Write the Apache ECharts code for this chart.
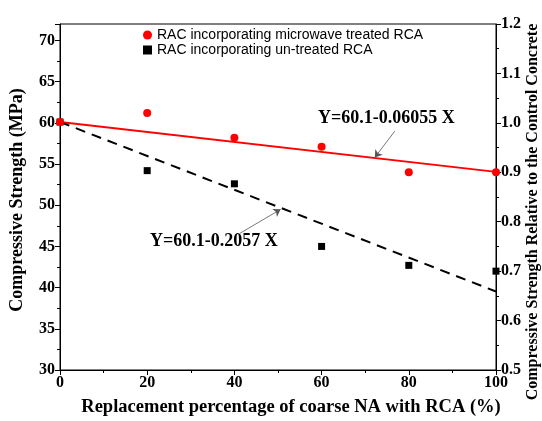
<!DOCTYPE html>
<html>
<head>
<meta charset="utf-8">
<script src="https://cdn.jsdelivr.net/npm/echarts@6/dist/echarts.min.js"></script>
<style>
  html, body { margin: 0; padding: 0; background: #fff; }
  #chart { width: 542px; height: 421px; }
</style>
</head>
<body>
<div id="chart"></div>
<script>
// replacement percentage (%)
const replacement = [0, 20, 40, 60, 80, 100]
// compressive strength (MPa)
const microwaveTreated = [60.1, 61.2, 58.2, 57.1, 54.0, 54.0]
const untreated = [60.1, 54.2, 52.6, 45.0, 42.7, 42.0]
// fitted lines, values at 0 % and 100 %
const fitX = [0, 100]
const microwaveFit = [60.1, 54.05]
const untreatedFit = [60.1, 39.53]

const serif = '"Liberation Serif", "Times New Roman", serif'

const chart = echarts.init(document.getElementById('chart'))

const pairs = (xs, ys) => xs.map((x, i) => [x, ys[i]])

chart.setOption({
  animation: false,
  grid: {
    left: 60,
    right: 46,
    top: 24,
    bottom: 51,
    outerBoundsMode: 'none',
    show: true,
    borderColor: '#000',
    borderWidth: 1
  },
  legend: {
    orient: 'vertical',
    left: 138,
    top: 23,
    itemGap: 1,
    itemWidth: 9,
    itemHeight: 9,
    textStyle: { fontFamily: '"Liberation Sans", Arial, sans-serif', fontSize: 14, color: '#000' },
    data: [
      { name: 'RAC incorporating microwave treated RCA', icon: 'circle' },
      { name: 'RAC incorporating un-treated RCA', icon: 'rect' }
    ]
  },
  xAxis: {
    type: 'value',
    min: 0,
    max: 100,
    interval: 20,
    name: 'Replacement percentage of coarse NA with RCA (%)',
    nameLocation: 'middle',
    nameGap: 28,
    nameTextStyle: { fontFamily: serif, fontWeight: 'bold', fontSize: 18.5, color: '#000', padding: [0, 0, 0, 26] },
    axisLine: { lineStyle: { color: '#000' } },
    axisTick: { length: 5, lineStyle: { color: '#000' } },
    minorTick: { show: true, splitNumber: 2, length: 3, lineStyle: { color: '#000' } },
    axisLabel: { fontFamily: serif, fontWeight: 'bold', fontSize: 16, color: '#000', margin: 5 },
    splitLine: { show: false }
  },
  yAxis: [{
    type: 'value',
    min: 30,
    max: 72,
    interval: 5,
    name: 'Compressive Strength (MPa)',
    nameLocation: 'middle',
    nameGap: 34,
    nameTextStyle: { fontFamily: serif, fontWeight: 'bold', fontSize: 18, color: '#000', padding: [0, 6, 0, 0] },
    axisLine: { show: true, lineStyle: { color: '#000' } },
    axisTick: { show: true, length: 5, lineStyle: { color: '#000' } },
    minorTick: { show: true, splitNumber: 2, length: 3, lineStyle: { color: '#000' } },
    axisLabel: {
      fontFamily: serif, fontWeight: 'bold', fontSize: 16, color: '#000', margin: 5,
      formatter: v => (v % 5 === 0 ? String(v) : '')
    },
    splitLine: { show: false }
  }, {
    type: 'value',
    min: 0.5,
    max: 1.2,
    interval: 0.1,
    position: 'right',
    name: 'Compressive Strength Relative to the Control Concrete',
    nameLocation: 'middle',
    nameGap: 29,
    nameMoveOverlap: false,
    nameRotate: 90,
    nameTextStyle: { fontFamily: serif, fontWeight: 'bold', fontSize: 16, color: '#000', padding: [0, 30, 0, 0] },
    axisLine: { show: true, lineStyle: { color: '#000' } },
    axisTick: { show: true, length: 5, lineStyle: { color: '#000' } },
    minorTick: { show: true, splitNumber: 2, length: 3, lineStyle: { color: '#000' } },
    axisLabel: {
      fontFamily: serif, fontWeight: 'bold', fontSize: 16, color: '#000', margin: 5,
      formatter: v => v.toFixed(1)
    },
    splitLine: { show: false }
  }],
  graphic: [
    {
      type: 'text', left: 318, top: 109,
      style: { text: 'Y=60.1-0.06055 X', font: 'bold 18px ' + serif, fill: '#000' }
    },
    {
      type: 'text', left: 150, top: 232,
      style: { text: 'Y=60.1-0.2057 X', font: 'bold 18px ' + serif, fill: '#000' }
    }
  ],
  series: [
    {
      name: 'microwave fit',
      type: 'line',
      data: pairs(fitX, microwaveFit),
      showSymbol: false,
      lineStyle: { color: '#ff0000', width: 2 },
      itemStyle: { color: '#ff0000' },
      z: 2,
      markLine: {
        silent: true,
        symbol: ['none', 'arrow'],
        symbolSize: 7,
        label: { show: false },
        lineStyle: { color: '#555', width: 0.8, type: 'solid' },
        data: [[{ coord: [76.8, 59.0] }, { coord: [72.2, 55.8] }]]
      }
    },
    {
      name: 'untreated fit',
      type: 'line',
      data: pairs(fitX, untreatedFit),
      showSymbol: false,
      lineStyle: { color: '#000', width: 2, type: [10, 7] },
      itemStyle: { color: '#000' },
      z: 2,
      markLine: {
        silent: true,
        symbol: ['none', 'arrow'],
        symbolSize: 7,
        label: { show: false },
        lineStyle: { color: '#555', width: 0.8, type: 'solid' },
        data: [[{ coord: [41.3, 46.6] }, { coord: [50.6, 49.5] }]]
      }
    },
    {
      name: 'RAC incorporating un-treated RCA',
      type: 'scatter',
      data: pairs(replacement, untreated),
      symbol: 'rect',
      symbolSize: 7,
      itemStyle: { color: '#000', opacity: 1 },
      z: 3
    },
    {
      name: 'RAC incorporating microwave treated RCA',
      type: 'scatter',
      data: pairs(replacement, microwaveTreated),
      symbol: 'circle',
      symbolSize: 8,
      itemStyle: { color: '#ff0000', opacity: 1 },
      z: 4
    }
  ]
})
</script>
</body>
</html>
